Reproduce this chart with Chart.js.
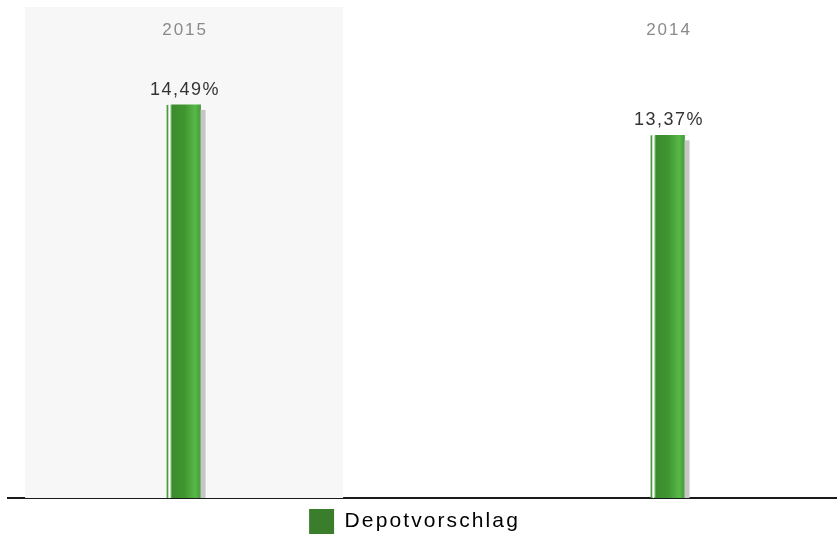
<!DOCTYPE html>
<html>
<head>
<meta charset="utf-8">
<script src="https://cdn.jsdelivr.net/npm/chart.js@4.4.1/dist/chart.umd.min.js"></script>
<style>
  html, body { margin: 0; padding: 0; background: #fff; }
  #wrap { width: 837px; height: 539px; }
</style>
</head>
<body>
<div id="wrap"><canvas id="chart"></canvas></div>
<script>
const years = ["2015", "2014"];
const depotValues = [14.49, 13.37];
const seriesName = "Depotvorschlag";

const FONT = "'Liberation Sans', Arial, sans-serif";

// Legendenschrift etwas gesperrt, Legende leicht nach links
const spacingPlugin = {
  id: "spacing",
  beforeLayout(chart) { chart.ctx.letterSpacing = "2.1px"; },
  afterLayout(chart) {
    if (chart.legend) {
      chart.legend.left -= 8;
      chart.legend.right -= 8;
    }
  },
  beforeDraw(chart) { chart.ctx.letterSpacing = "2.1px"; },
};

// Hintergrund + Beschriftungen
const decoPlugin = {
  id: "deco",
  beforeDatasetsDraw(chart) {
    const { ctx, chartArea, scales } = chart;
    // Band hinter der ersten Kategorie
    const cx = scales.x.getPixelForValue(0) - 2;
    ctx.save();
    ctx.fillStyle = "#f7f7f7";
    ctx.fillRect(cx - 159, chartArea.top, 318, chartArea.bottom - chartArea.top);
    ctx.restore();
  },
  afterDatasetsDraw(chart) {
    const { ctx, chartArea } = chart;
    const meta = chart.getDatasetMeta(0);
    ctx.save();
    meta.data.forEach((bar, i) => {
      const left = bar.x - bar.width / 2;
      const right = bar.x + bar.width / 2;
      const h = bar.base - bar.y;
      // Schatten
      ctx.fillStyle = "#c6c6c6";
      ctx.fillRect(right, bar.y + 5, 5, h - 5);
      // linker Streifen
      ctx.fillStyle = "#4f9a41";
      ctx.fillRect(left - 5, bar.y, 2, h);
      ctx.fillStyle = "#ffffff";
      ctx.fillRect(left - 3, bar.y, 2, h);
      ctx.fillStyle = "#5cae4c";
      ctx.fillRect(left - 1, bar.y, 1, h);

      ctx.textAlign = "center";
      ctx.textBaseline = "alphabetic";
      // Jahr oben
      ctx.letterSpacing = "2px";
      ctx.fillStyle = "#8a8a8a";
      ctx.font = "17px " + FONT;
      ctx.fillText(years[i], bar.x - 1, chartArea.top + 28);
      // Wert
      ctx.letterSpacing = "1.5px";
      ctx.fillStyle = "#333333";
      ctx.font = "18px " + FONT;
      ctx.fillText(depotValues[i].toFixed(2).replace(".", ",") + "%", bar.x - 1, bar.y - 10);
    });
    ctx.restore();
  }
};

const ctx = document.getElementById("chart").getContext("2d");

new Chart(ctx, {
  type: "bar",
  data: {
    datasets: [
      {
        label: seriesName,
        data: depotValues.map((v, i) => ({ x: i, y: v })),
        backgroundColor: (c) => {
          const chart = c.chart;
          if (!chart.chartArea || c.raw === undefined) return "#3f8a31";
          const x = chart.scales.x.getPixelForValue(c.raw.x);
          const g = chart.ctx.createLinearGradient(x - 15, 0, x + 15, 0);
          g.addColorStop(0, "#3a8a2e");
          g.addColorStop(0.45, "#40962f");
          g.addColorStop(0.8, "#58b848");
          g.addColorStop(1, "#43993a");
          return g;
        },
        borderWidth: 0,
        barThickness: 29,
      },
    ],
  },
  options: {
    responsive: true,
    maintainAspectRatio: false,
    animation: false,
    layout: { padding: { left: 8, right: 0, top: 7, bottom: -5 } },
    scales: {
      x: {
        type: "linear",
        offset: false,
        min: -0.368,
        max: 1.345,
        grid: { display: false },
        ticks: { display: false },
        border: { display: true, color: "#1a1a1a", width: 2 },
      },
      y: {
        display: false,
        min: 0,
        max: 18.1,
      },
    },
    plugins: {
      tooltip: { enabled: false },
      legend: {
        position: "bottom",
        labels: {
          boxWidth: 25,
          boxHeight: 25,
          padding: 3,
          color: "#444",
          font: { size: 21, family: FONT },
          generateLabels: () => [
            { text: seriesName, fillStyle: "#3a7e2b", strokeStyle: "#3a7e2b", lineWidth: 0, datasetIndex: 0 },
          ],
        },
      },
    },
  },
  plugins: [spacingPlugin, decoPlugin],
});
</script>
</body>
</html>
